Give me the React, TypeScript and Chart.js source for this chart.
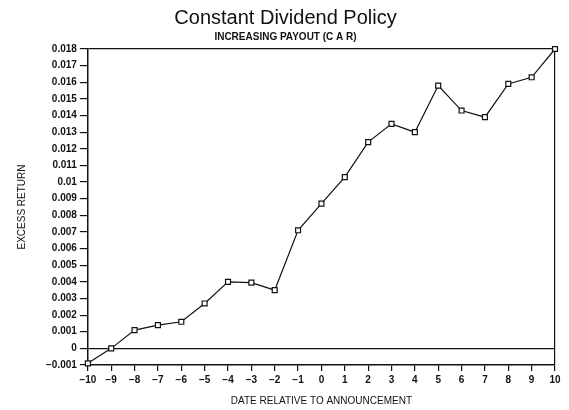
import React, { useEffect, useRef } from "react";
import { Chart, registerables } from "chart.js";

Chart.register(...registerables);

const days = [-10, -9, -8, -7, -6, -5, -4, -3, -2, -1, 0, 1, 2, 3, 4, 5, 6, 7, 8, 9, 10];
const excessReturn = [
  -0.0009, 0.0, 0.0011, 0.0014, 0.0016, 0.0027, 0.004, 0.00395, 0.0035, 0.0071, 0.0087,
  0.0103, 0.0124, 0.0135, 0.013, 0.0158, 0.0143, 0.0139, 0.0159, 0.0163, 0.018,
];
const yTicks = [-0.001, 0, 0.001, 0.002, 0.003, 0.004, 0.005, 0.006, 0.007, 0.008, 0.009, 0.01, 0.011, 0.012, 0.013, 0.014, 0.015, 0.016, 0.017, 0.018];
const titleText = "Constant Dividend Policy";
const subtitleText = "INCREASING PAYOUT (C A R)";
const xTitle = "DATE RELATIVE TO ANNOUNCEMENT";
const yTitle = "EXCESS RETURN";

const FONT = "'Liberation Sans', Arial, sans-serif";

const fmtMinus = (s: string) => s.replace("-", "\u2212");

export default function App() {
  const ref = useRef<HTMLCanvasElement | null>(null);
  useEffect(() => {
    if (!ref.current) return;
    const chart = new Chart(ref.current, {
      type: "line",
      data: {
        datasets: [
          {
            data: days.map((d, i) => ({ x: d, y: excessReturn[i] })),
            borderColor: "#111",
            borderWidth: 1.2,
            pointStyle: "rect",
            pointRadius: 3.5,
            pointBackgroundColor: "#fff",
            pointBorderColor: "#111",
            pointBorderWidth: 1.2,
            tension: 0,
            clip: false,
          },
        ],
      },
      options: {
        animation: false,
        responsive: false,
        maintainAspectRatio: false,
        layout: { padding: { left: 16, right: 14, top: 0, bottom: 3 } },
        plugins: {
          legend: { display: false },
          tooltip: { enabled: false },
          title: {
            display: true,
            text: titleText,
            color: "#111",
            font: { family: FONT, size: 20, weight: "normal" },
            padding: { top: 6, bottom: 1 },
          },
          subtitle: {
            display: true,
            text: subtitleText,
            color: "#111",
            font: { family: FONT, size: 10, weight: "bold" },
            padding: { top: 0, bottom: 6 },
          },
        },
        scales: {
          x: {
            type: "linear",
            min: -10,
            max: 10,
            afterBuildTicks: (axis: any) => {
              axis.ticks = days.map((v) => ({ value: v }));
            },
            ticks: {
              color: "#111",
              font: { family: FONT, size: 10, weight: "bold" },
              padding: 3,
              maxRotation: 0,
              autoSkip: false,
              callback: (v: any) => fmtMinus(String(v)),
            },
            grid: {
              color: (c: any) => (c.tick && c.tick.value === 10 ? "#111" : "transparent"),
              tickColor: "#111",
              tickLength: 6,
              lineWidth: 1.2,
            },
            border: { color: "#111", width: 1.5 },
            title: {
              display: true,
              text: xTitle,
              color: "#111",
              font: { family: FONT, size: 10, weight: "normal" },
              padding: { top: 6, bottom: 0 },
            },
          },
          y: {
            type: "linear",
            min: -0.001,
            max: 0.018,
            afterBuildTicks: (axis: any) => {
              axis.ticks = yTicks.map((v) => ({ value: v }));
            },
            ticks: {
              color: "#111",
              font: { family: FONT, size: 10, weight: "bold" },
              padding: 3,
              autoSkip: false,
              callback: (v: any) => {
                const n = Number(v);
                if (Math.abs(n) < 1e-9) return "0";
                return fmtMinus(String(parseFloat(n.toFixed(3))));
              },
            },
            grid: {
              color: (c: any) =>
                c.tick && (Math.abs(c.tick.value) < 1e-9 || Math.abs(c.tick.value - 0.018) < 1e-9)
                  ? "#111"
                  : "transparent",
              tickColor: "#111",
              tickLength: 8,
              lineWidth: 1.2,
            },
            border: { color: "#111", width: 1.5 },
            title: {
              display: true,
              text: yTitle,
              color: "#111",
              font: { family: FONT, size: 10, weight: "normal" },
              padding: { top: 0, bottom: 15 },
            },
          },
        },
      },
    });
    return () => chart.destroy();
  }, []);
  return (
    <div style={{ position: "fixed", left: 0, top: 0, width: 569, height: 410, background: "#fff" }}>
      <canvas ref={ref} width={569} height={410} />
    </div>
  );
}
